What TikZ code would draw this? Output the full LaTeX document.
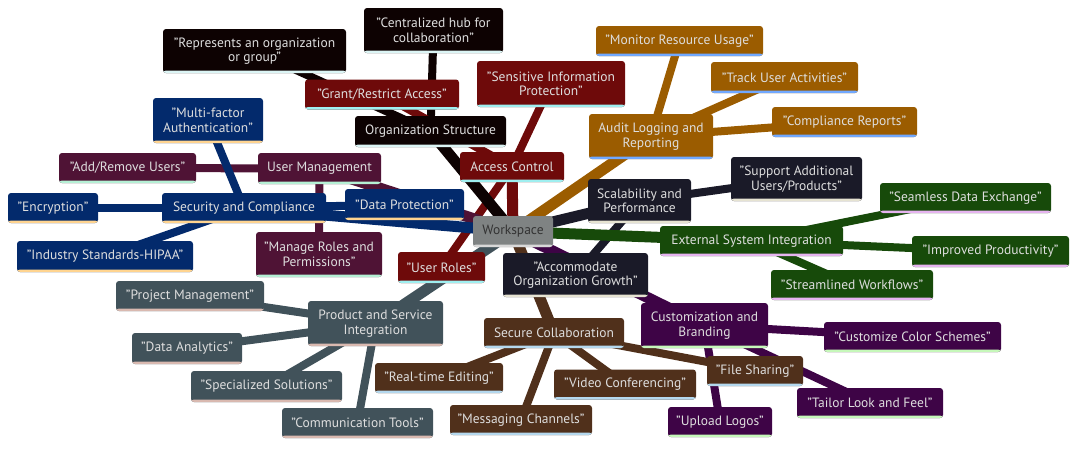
\documentclass[tikz,border=0pt]{standalone}
\usepackage{fontspec}
\setmainfont{PT Sans}
\usetikzlibrary{backgrounds}
\definecolor{cOrg}{HTML}{0D0202}\definecolor{sOrg}{HTML}{DCF5F5}
\definecolor{cRed}{HTML}{6E0A0A}\definecolor{sRed}{HTML}{9FEFF0}
\definecolor{cMar}{HTML}{4F1335}\definecolor{sMar}{HTML}{B5F0D5}
\definecolor{cNavy}{HTML}{032A6C}\definecolor{sNavy}{HTML}{FFD490}
\definecolor{cSlate}{HTML}{41525A}\definecolor{sSlate}{HTML}{D9B9B0}
\definecolor{cGold}{HTML}{9B5C00}\definecolor{sGold}{HTML}{70A8FF}
\definecolor{cDark}{HTML}{1A1A28}\definecolor{sDark}{HTML}{E6E3D2}
\definecolor{cGreen}{HTML}{174A0A}\definecolor{sGreen}{HTML}{E6B4F0}
\definecolor{cPurp}{HTML}{3E0446}\definecolor{sPurp}{HTML}{C6F8BA}
\definecolor{cBrown}{HTML}{50301B}\definecolor{sBrown}{HTML}{B4D8EE}
\definecolor{cRoot}{HTML}{7F8383}\definecolor{sRoot}{HTML}{D8D8D8}
\definecolor{txt}{HTML}{DEDEDE}
\definecolor{rtxt}{HTML}{333333}
\tikzset{
  mm/.style 2 args={draw=none, fill=#1, rounded corners=3pt, text=txt,
    font=\fontsize{13.5}{14.5}\selectfont, align=center, inner sep=0pt,
    path picture={\fill[#2] ([yshift=2.5pt]path picture bounding box.south west) rectangle (path picture bounding box.south east);}},
  rootn/.style={mm={cRoot}{sRoot}, text=rtxt},
  org/.style={mm={cOrg}{sOrg}},
  red/.style={mm={cRed}{sRed}},
  mar/.style={mm={cMar}{sMar}},
  navy/.style={mm={cNavy}{sNavy}},
  slate/.style={mm={cSlate}{sSlate}},
  gold/.style={mm={cGold}{sGold}},
  dark/.style={mm={cDark}{sDark}},
  green/.style={mm={cGreen}{sGreen}},
  purp/.style={mm={cPurp}{sPurp}},
  brown/.style={mm={cBrown}{sBrown}},
  eone/.style={line width=11pt},
  etwo/.style={line width=8pt},
}
\newcommand\mmn[7]{\node[#6, minimum width=#4pt, minimum height=#5pt] (#1) at (#2,#3) {#7};}
\begin{document}
\begin{tikzpicture}[x=1pt,y=-1pt]
\useasboundingbox (0,0) rectangle (1078,448);
% root
\mmn{root}{513}{231.5}{80}{31}{rootn}{Workspace}
% Organization Structure
\mmn{org}{430.5}{131.5}{151}{31}{org}{Organization Structure}
\mmn{hub}{433.5}{30.5}{139}{45}{org}{"Centralized hub for\\collaboration"}
\mmn{repr}{254.5}{51}{183}{44}{org}{"Represents an organization\\or group"}
% Access Control
\mmn{acc}{512}{167}{104}{30}{red}{Access Control}
\mmn{grant}{382}{94.5}{154}{30}{red}{"Grant/Restrict Access"}
\mmn{sens}{551}{84}{148}{46}{red}{"Sensitive Information\\Protection"}
\mmn{roles}{441.5}{267.5}{87}{31}{red}{"User Roles"}
% User Management
\mmn{um}{319.5}{168.5}{123}{31}{mar}{User Management}
\mmn{addrem}{127.5}{168}{137}{30}{mar}{"Add/Remove Users"}
\mmn{manage}{319}{254.5}{126}{45}{mar}{"Manage Roles and\\Permissions"}
% Security and Compliance
\mmn{sec}{244}{208}{164}{30}{navy}{Security and Compliance}
\mmn{mfa}{208}{120.5}{110}{45}{navy}{"Multi-factor\\Authentication"}
\mmn{enc}{53}{208}{90}{30}{navy}{"Encryption"}
\mmn{hipaa}{105}{256.5}{176}{31}{navy}{"Industry Standards-HIPAA"}
\mmn{dprot}{404.5}{204.5}{119}{31}{navy}{"Data Protection"}
% Product and Service Integration
\mmn{psi}{375.5}{323.5}{135}{45}{slate}{Product and Service\\Integration}
\mmn{pm}{190}{296}{148}{30}{slate}{"Project Management"}
\mmn{da}{187}{348.5}{110}{31}{slate}{"Data Analytics"}
\mmn{ss}{266.5}{386.5}{151}{31}{slate}{"Specialized Solutions"}
\mmn{ct}{357.5}{423}{151}{30}{slate}{"Communication Tools"}
% Audit Logging
\mmn{audit}{651}{136.5}{124}{45}{gold}{Audit Logging and\\Reporting}
\mmn{mon}{679.5}{41}{167}{30}{gold}{"Monitor Resource Usage"}
\mmn{track}{784.5}{77.5}{147}{31}{gold}{"Track User Activities"}
\mmn{comp}{844.5}{122}{145}{30}{gold}{"Compliance Reports"}
% Scalability
\mmn{scal}{639.5}{201}{103}{44}{dark}{Scalability and\\Performance}
\mmn{supp}{796.5}{179}{131}{44}{dark}{"Support Additional\\Users/Products"}
\mmn{accom}{575.5}{275}{145}{44}{dark}{"Accommodate\\Organization Growth"}
% External System Integration
\mmn{ext}{751.5}{241}{183}{30}{green}{External System Integration}
\mmn{seam}{965.5}{198}{171}{30}{green}{"Seamless Data Exchange"}
\mmn{impr}{990.5}{251.5}{157}{31}{green}{"Improved Productivity"}
\mmn{stream}{852}{285}{162}{30}{green}{"Streamlined Workflows"}
% Customization and Branding
\mmn{cb}{704.5}{325.5}{127}{45}{purp}{Customization and\\Branding}
\mmn{ccs}{912.5}{337}{177}{30}{purp}{"Customize Color Schemes"}
\mmn{tail}{870}{403}{146}{30}{purp}{"Tailor Look and Feel"}
\mmn{logo}{720}{422}{104}{30}{purp}{"Upload Logos"}
% Secure Collaboration
\mmn{sc}{554}{333}{140}{30}{brown}{Secure Collaboration}
\mmn{rte}{439}{378}{128}{30}{brown}{"Real-time Editing"}
\mmn{vc}{625}{384.5}{142}{30}{brown}{"Video Conferencing"}
\mmn{msg}{521}{420}{142}{30}{brown}{"Messaging Channels"}
\mmn{fs}{755}{371}{96}{30}{brown}{"File Sharing"}
\begin{scope}[on background layer]
\draw[etwo,cOrg] (org.center) -- (hub.center);
\draw[etwo,cOrg] (org.center) -- (repr.center);
\draw[etwo,cRed] (acc.center) -- (grant.center);
\draw[etwo,cRed] (acc.center) -- (sens.center);
\draw[etwo,cRed] (acc.center) -- (roles.center);
\draw[etwo,cMar] (um.center) -- (addrem.center);
\draw[etwo,cMar] (um.center) -- (manage.center);
\draw[etwo,cNavy] (sec.center) -- (mfa.center);
\draw[etwo,cNavy] (sec.center) -- (enc.center);
\draw[etwo,cNavy] (sec.center) -- (hipaa.center);
\draw[etwo,cNavy] (sec.center) -- (dprot.center);
\draw[etwo,cSlate] (psi.center) -- (pm.center);
\draw[etwo,cSlate] (psi.center) -- (da.center);
\draw[etwo,cSlate] (psi.center) -- (ss.center);
\draw[etwo,cSlate] (psi.center) -- (ct.center);
\draw[etwo,cGold] (audit.center) -- (mon.center);
\draw[etwo,cGold] (audit.center) -- (track.center);
\draw[etwo,cGold] (audit.center) -- (comp.center);
\draw[etwo,cDark] (scal.center) -- (supp.center);
\draw[etwo,cDark] (scal.center) -- (accom.center);
\draw[etwo,cGreen] (ext.center) -- (seam.center);
\draw[etwo,cGreen] (ext.center) -- (impr.center);
\draw[etwo,cGreen] (ext.center) -- (stream.center);
\draw[etwo,cPurp] (cb.center) -- (ccs.center);
\draw[etwo,cPurp] (cb.center) -- (tail.center);
\draw[etwo,cPurp] (cb.center) -- (logo.center);
\draw[etwo,cBrown] (sc.center) -- (rte.center);
\draw[etwo,cBrown] (sc.center) -- (vc.center);
\draw[etwo,cBrown] (sc.center) -- (msg.center);
\draw[etwo,cBrown] (sc.center) -- (fs.center);
\draw[eone,cOrg] (root.center) -- (org.center);
\draw[eone,cRed] (root.center) -- (acc.center);
\draw[eone,cMar] (root.center) -- (um.center);
\draw[eone,cNavy] (root.center) -- (sec.center);
\draw[eone,cSlate] (root.center) -- (psi.center);
\draw[eone,cGold] (root.center) -- (audit.center);
\draw[eone,cDark] (root.center) -- (scal.center);
\draw[eone,cGreen] (root.center) -- (ext.center);
\draw[eone,cPurp] (root.center) -- (cb.center);
\draw[eone,cBrown] (root.center) -- (sc.center);
\end{scope}
\end{tikzpicture}
\end{document}
